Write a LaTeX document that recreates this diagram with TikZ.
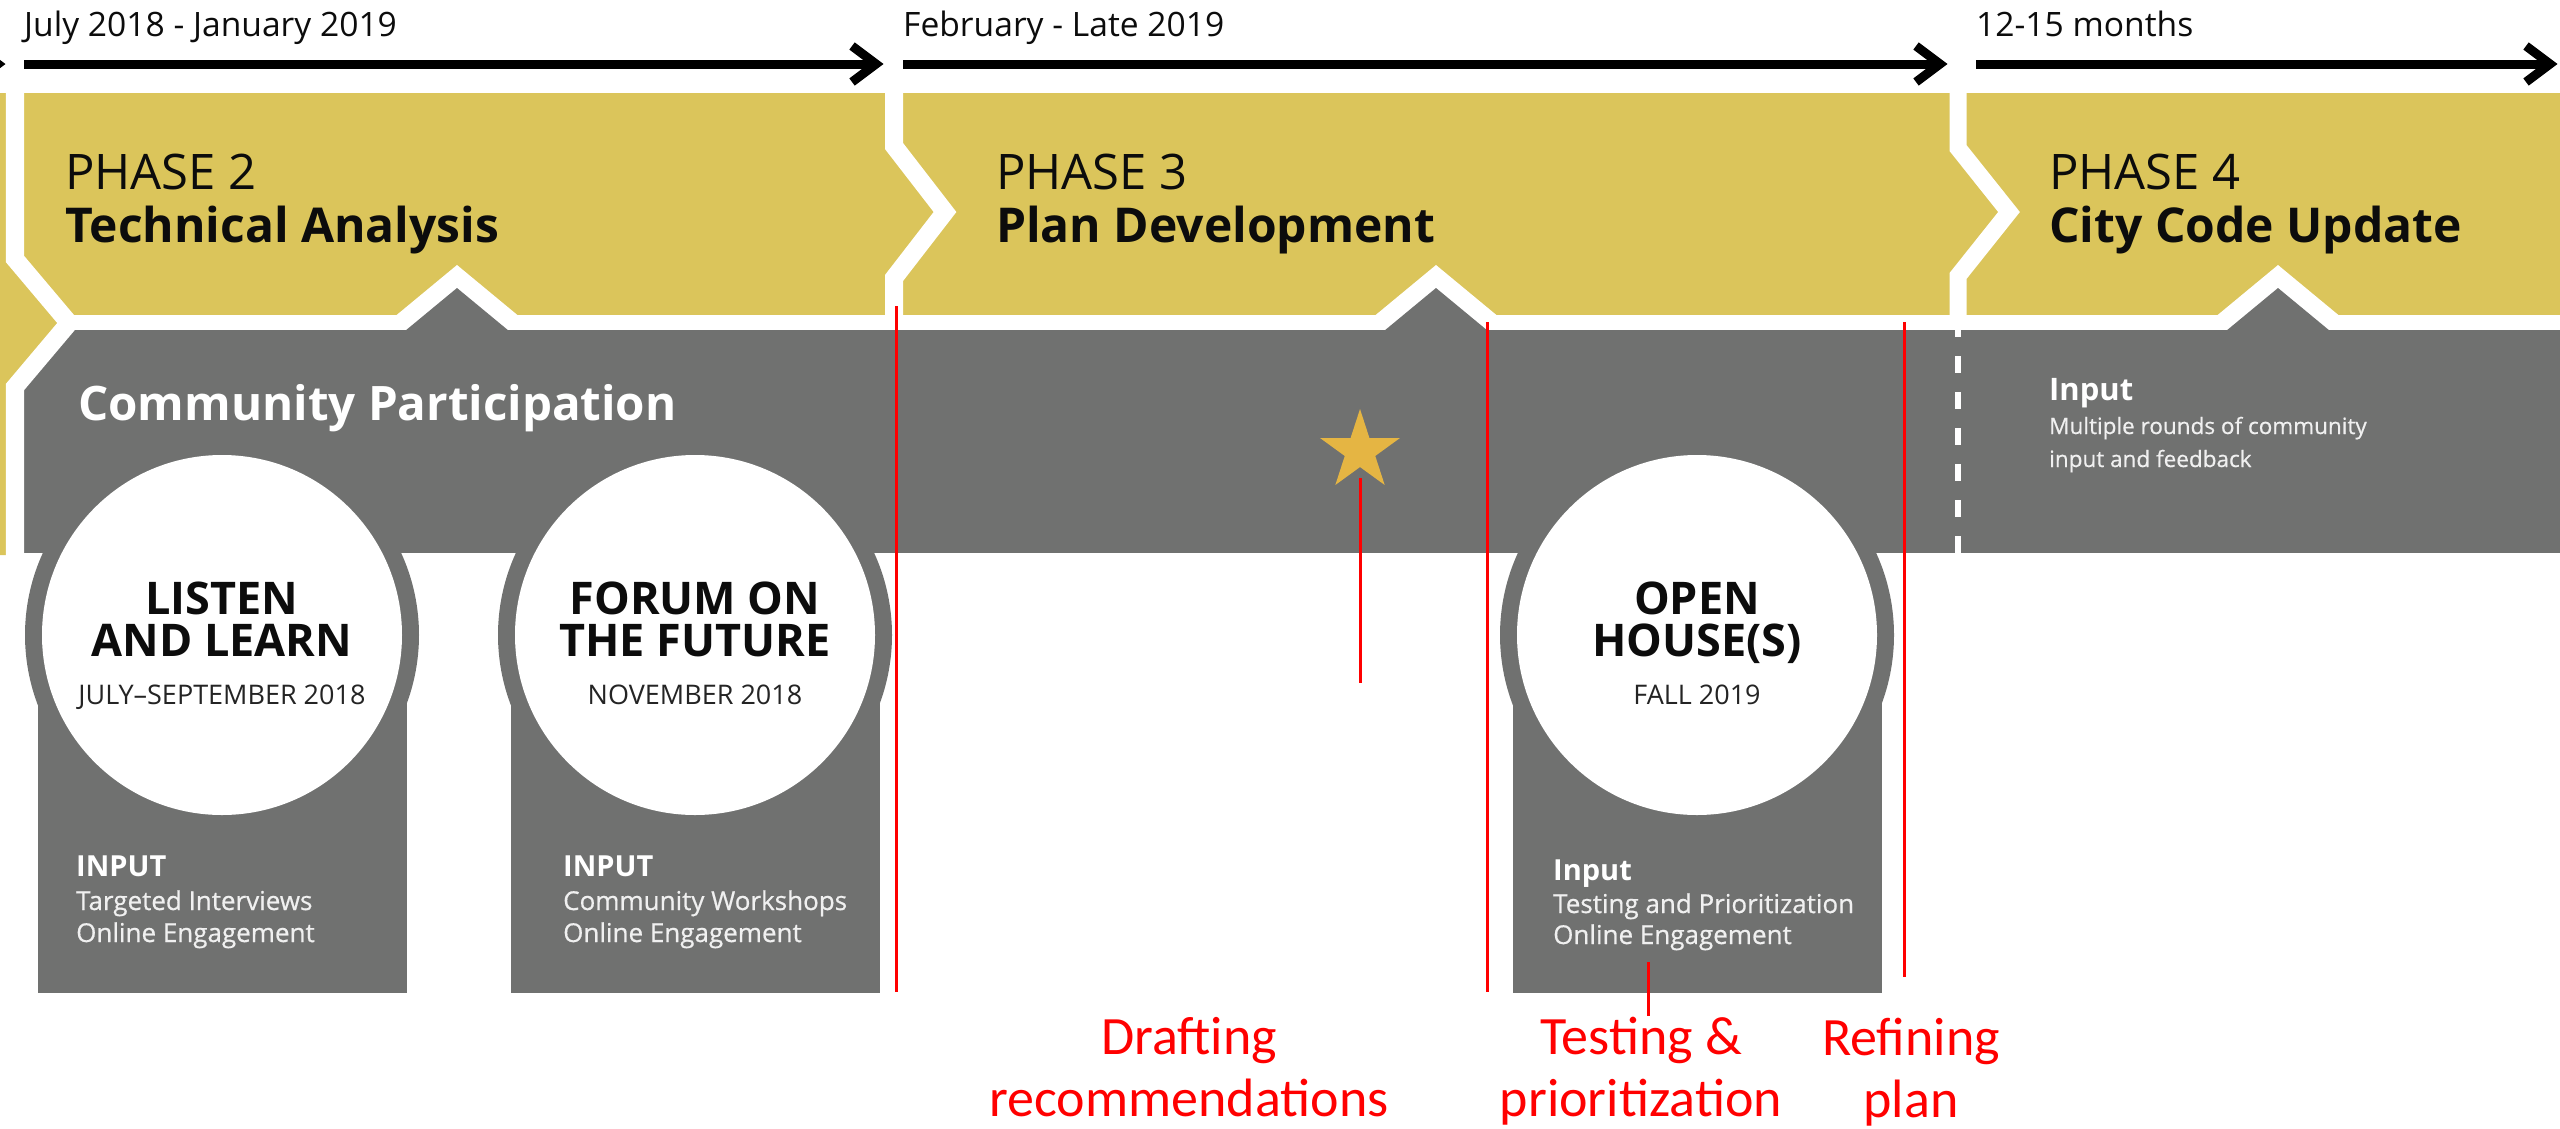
\documentclass[tikz,border=0pt]{standalone}
\usepackage{fontspec}
\setmainfont{Open Sans}
\newfontfamily\notefont{Carlito}
\newfontfamily\inputfont{Open Sans}[FakeBold=0.6]
\usetikzlibrary{shapes.geometric}

\definecolor{phaseyellow}{RGB}{219,197,91}
\definecolor{bandgray}{RGB}{112,113,112}
\definecolor{stargold}{RGB}{229,181,67}
\definecolor{notered}{RGB}{255,0,0}
\definecolor{inkblack}{RGB}{12,12,12}

\newcommand{\fsz}[1]{\fontsize{#1bp}{#1bp}\selectfont}

\tikzset{
  datelabel/.style={anchor=base west, inner sep=0pt, font=\fsz{33.6}, text=inkblack},
  phasenum/.style={anchor=base west, inner sep=0pt, font=\fsz{49}, text=inkblack},
  phasetitle/.style={anchor=base west, inner sep=0pt, font=\bfseries\fsz{48}, text=inkblack},
  bandtitle/.style={anchor=base west, inner sep=0pt, font=\bfseries\fsz{47.5}, text=white},
  eventtitle/.style={anchor=base, inner sep=0pt, font=\bfseries\fsz{45}, text=inkblack},
  eventdate/.style={anchor=base, inner sep=0pt, font=\fsz{27}, text=inkblack!90},
  inputhead/.style={anchor=base west, inner sep=0pt, font=\bfseries\fsz{29}, text=white},
  inputline/.style={anchor=base west, inner sep=0pt, font=\inputfont\fsz{26}, text=white!94!black},
  notelabel/.style={anchor=base, inner sep=0pt, font=\notefont\fsz{54}, text=notered},
  marker/.style={draw=notered, line width=3bp},
  timeline/.style={draw=black, line width=9bp},
  arrowhead/.style={draw=black, line width=9bp, miter limit=10},
  phasegap/.style={draw=white, line width=18bp, miter limit=10},
}

\begin{document}
\begin{tikzpicture}[x=1bp, y=-1bp]
\useasboundingbox (0,0) rectangle (2560,1128);

% ---- phase band (yellow) and community band (gray)
\fill[phaseyellow] (15,93) rectangle (2560,315);
\fill[bandgray] (15,330) rectangle (2560,553);
% phase 1, the tail of which shows at the left edge
\fill[phaseyellow] (0,93) -- (15,93) -- (15,259) -- (69,323) -- (15,387) -- (15,555) -- (0,555) -- cycle;

% notches of the yellow band with the gray tabs rising into them
\foreach \ax in {457,1436,2278}{
  \fill[white] (\ax-61,315.5) -- (\ax,265) -- (\ax+61,315.5) -- cycle;
  \fill[bandgray] (\ax-52,331) -- (\ax,288) -- (\ax+52,331) -- cycle;
}

% white chevron gaps between phases
\draw[phasegap] (15,90) -- (15,259) -- (69,323) -- (15,387) -- (15,560);
\draw[phasegap] (894,90) -- (894,146) -- (945,212) -- (894,278) -- (894,318);
\draw[phasegap, line width=17bp] (1958,90) -- (1958,148) -- (2009,212) -- (1958,276) -- (1958,318);

% dashed divider inside the community band
\coordinate (dashtop) at (1958,330);
\coordinate (dashbot) at (1958,553);
\draw[white, line width=6bp, dash pattern=on 17bp off 19bp, dash phase=10bp] (dashtop) -- (dashbot);

% ---- event medallions
\foreach \cx/\nm in {222/ev1, 695/ev2, 1697/ev3}{
  \fill[bandgray] (\cx,635) circle[radius=197];
  \fill[bandgray] (\cx-184.5,600) rectangle (\cx+184.5,993);
  \fill[white] (\cx,635) circle[radius=180];
  \coordinate (\nm) at (\cx,635);
}

% star marker
\node[star, star points=5, star point ratio=2.618, minimum size=84bp, inner sep=0pt,
      fill=stargold, draw=none] (star) at (1360,451) {};

% ---- timeline arrows and periods
\coordinate (a0e) at (-2,64);
\coordinate (a1s) at (24,64);   \coordinate (a1e) at (876,64);
\coordinate (a2s) at (903,64);  \coordinate (a2e) at (1940,64);
\coordinate (a3s) at (1976,64); \coordinate (a3e) at (2550,64);
\draw[arrowhead] (a0e) ++(-24,-18) -- ++(24,18) -- ++(-24,18);
\draw[timeline] (a1s) -- (a1e);
\draw[arrowhead] (a1e) ++(-24,-18) -- ++(24,18) -- ++(-24,18);
\draw[timeline] (a2s) -- (a2e);
\draw[arrowhead] (a2e) ++(-24,-18) -- ++(24,18) -- ++(-24,18);
\draw[timeline] (a3s) -- (a3e);
\draw[arrowhead] (a3e) ++(-24,-18) -- ++(24,18) -- ++(-24,18);

\node[datelabel] (per2) at (24,36) {July 2018 - January 2019};
\node[datelabel] (per3) at (903,36) {February - Late 2019};
\node[datelabel] (per4) at (1976,36) {12-15 months};

% ---- phase titles
\node[phasenum] (ph2n) at (65,189) {PHASE 2};
\node[phasetitle] (ph2t) at (65,242) {Technical Analysis};
\node[phasenum] (ph3n) at (996,189) {PHASE 3};
\node[phasetitle] (ph3t) at (996,242) {Plan Development};
\node[phasenum] (ph4n) at (2049,189) {PHASE 4};
\node[phasetitle] (ph4t) at (2049,242) {City Code Update};

\node[bandtitle] (cp) at (78,420) {Community Participation};

% ---- medallion texts
\node[eventtitle] (e1a) at (222,614) {LISTEN};
\node[eventtitle] (e1b) at (222,656) {AND LEARN};
\node[eventdate]  (e1d) at (222,704) {JULY–SEPTEMBER 2018};
\node[eventtitle] (e2a) at (695,614) {FORUM ON};
\node[eventtitle] (e2b) at (695,656) {THE FUTURE};
\node[eventdate]  (e2d) at (695,704) {NOVEMBER 2018};
\node[eventtitle] (e3a) at (1697,614) {OPEN};
\node[eventtitle] (e3b) at (1697,656) {HOUSE(S)};
\node[eventdate]  (e3d) at (1697,704) {FALL 2019};

% ---- input notes
\node[inputhead] (in1) at (76,876) {INPUT};
\node[inputline] (in1a) at (76,910) {Targeted Interviews};
\node[inputline] (in1b) at (76,942) {Online Engagement};
\node[inputhead] (in2) at (563,876) {INPUT};
\node[inputline] (in2a) at (563,910) {Community Workshops};
\node[inputline] (in2b) at (563,942) {Online Engagement};
\node[inputhead] (in3) at (1553,880) {Input};
\node[inputline] (in3a) at (1553,913) {Testing and Prioritization};
\node[inputline] (in3b) at (1553,944) {Online Engagement};
\node[inputhead, font=\bfseries\fsz{31}] (in4) at (2049,400) {Input};
\node[inputline, font=\inputfont\fsz{22.5}] (in4a) at (2049,434) {Multiple rounds of community};
\node[inputline, font=\inputfont\fsz{22.5}] (in4b) at (2049,467) {input and feedback};

% ---- red annotations
\node[notelabel] (n1a) at (1189,1054) {Drafting};
\node[notelabel] (n1b) at (1189,1116) {recommendations};
\node[notelabel] (n2a) at (1641,1054) {Testing \&};
\node[notelabel] (n2b) at (1641,1116) {prioritization};
\node[notelabel] (n3a) at (1911,1055) {Refining};
\node[notelabel] (n3b) at (1911,1117) {plan};

\coordinate (m1t) at (896,306);  \coordinate (m1b) at (896,992);
\coordinate (m2t) at (1487,322); \coordinate (m2b) at (1487,992);
\coordinate (m3t) at (1904,322); \coordinate (m3b) at (1904,977);
\coordinate (starend) at (1360,683);
\coordinate (testtop) at (1648,962);
\draw[marker] (m1t) -- (m1b);
\draw[marker] (m2t) -- (m2b);
\draw[marker] (m3t) -- (m3b);
\draw[marker, shorten <=11bp] (star.south) -- (starend);
\draw[marker] (testtop) -- (testtop |- n2a.north);
\end{tikzpicture}
\end{document}
